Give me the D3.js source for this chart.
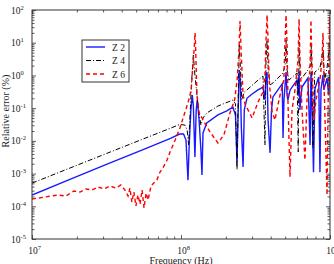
<!DOCTYPE html>
<html>
<head>
<meta charset="utf-8">
<script src="https://cdn.jsdelivr.net/npm/d3@7"></script>
<style>
  body { margin: 0; background: #fff; }
  text { font-family: "Liberation Serif", "DejaVu Serif", serif; fill: #222; }
</style>
</head>
<body>
<div id="chart"></div>
<script>
// Frequencies are in MHz, relative errors in %
var freqZ2 = [10, 17.8, 31.6, 56.2, 85, 98, 104, 108, 111.4, 113.5, 116.5, 119, 121, 124, 126.5, 128.5, 132, 136, 138.3, 140.5,
  149, 177, 203, 223, 232, 237.6, 242, 246, 250, 254, 261, 266, 277, 300, 329, 355, 366, 372, 378, 384,
  396, 405, 414, 447, 478, 484, 491, 507, 515, 522, 540, 601, 612, 620, 628, 640, 649, 711, 735, 745,
  755, 775, 793, 840, 856, 870, 897, 910, 955, 980, 1000];
var errZ2 = [2.2e-4, 6.5e-4, 1.9e-3, 5.5e-3, 0.0119, 0.0162, 0.0162, 0.0106, 6.3e-4, 0.0075, 0.088, 0.25, 0.12, 0.0032, 0.088, 0.18, 0.05, 0.0053, 9e-4, 0.0174,
  0.035, 0.062, 0.082, 0.108, 0.062, 0.0021, 0.088, 1.47, 0.72, 0.0265, 0.0016, 0.088, 0.2, 0.27, 0.36, 0.44, 0.18, 1.03, 1.26, 0.043,
  0.0043, 0.088, 0.22, 0.36, 0.55, 0.0122, 0.18, 1.26, 0.25, 0.18, 0.36, 0.72, 0.25, 1.26, 0.088, 0.25, 0.44, 0.83, 0.0075, 1.26,
  0.18, 0.0011, 0.4, 0.9, 0.0011, 0.36, 1.03, 0.36, 0.83, 0.25, 1.47];

var freqZ4 = [10, 31.6, 56.2, 85, 98, 106, 110, 112.5, 115, 118, 121, 124, 127, 131, 136, 140.5, 149, 177, 223, 232,
  237.6, 242, 246, 250, 256, 266, 277, 329, 355, 366, 372, 378, 385, 396, 414, 484, 500, 507, 515, 530,
  601, 612, 620, 630, 649, 711, 740, 750, 768, 790, 856, 897, 920, 955, 1000];
var errZ4 = [5.1e-4, 4.1e-3, 0.0116, 0.0244, 0.0316, 0.0305, 0.0216, 0.0075, 0.062, 0.72, 4.2, 1.03, 0.36, 0.088, 0.0305, 0.05, 0.071, 0.116, 0.177, 0.136,
  0.0013, 0.177, 8.5, 2.08, 0.177, 0.31, 0.36, 0.72, 0.96, 0.0075, 2.96, 12.1, 1.47, 0.51, 0.59, 1.19, 2.08, 12.1, 1.47, 0.72,
  1.19, 0.0046, 10.5, 1.03, 0.83, 1.47, 2.08, 8.5, 0.006, 1.26, 1.69, 6, 0.72, 1.69, 12.1];

var freqZ6 = [10, 12.2, 14.9, 16.9, 19.1, 21, 23, 25.3, 27.7, 30.4, 33.4, 36.6, 39.5, 42.1, 44.1, 45.4, 46.8, 48.3, 49.8, 51.4,
  53.1, 54.8, 56.5, 58.3, 60.1, 62.9, 65.7, 68.9, 72.3, 75.6, 80.6, 84.4, 91.4, 98.4, 104.8, 111.4, 117, 121, 123.3, 124.2,
  125.1, 126, 128, 132, 140.5, 156.6, 177, 194, 213, 229, 238, 245, 249, 253, 261, 269, 300, 329, 355, 366,
  372, 378, 384, 390, 409, 427, 462, 490, 498, 507, 515, 522, 539, 556, 582, 610, 620, 629, 649, 679,
  701, 734, 745, 756, 780, 805, 856, 884, 897, 911, 955, 970, 993, 1000];
var errZ6 = [1.67e-4, 1.92e-4, 2.21e-4, 2.06e-4, 2.93e-4, 2.73e-4, 3.38e-4, 3.14e-4, 3.88e-4, 3.38e-4, 4.16e-4, 3.61e-4, 4.47e-4, 3.14e-4, 2.06e-4, 3.61e-4, 1.35e-4, 2.73e-4, 1.02e-4, 2.21e-4,
  1.17e-4, 3.14e-4, 8.9e-5, 2.54e-4, 1.55e-4, 4.16e-4, 5.14e-4, 6.35e-4, 1.11e-3, 1.48e-3, 2.59e-3, 4.56e-3, 0.0106, 0.0247, 0.0617, 0.144, 0.36, 2.96, 10, 19.8,
  10, 2.96, 0.252, 0.0762, 0.0434, 0.0186, 0.0086, 0.0151, 0.071, 0.177, 0.72, 6, 46, 6, 0.252, 0.134, 0.05, 0.154, 0.311, 1.03,
  12.1, 70, 12.1, 0.72, 0.0762, 0.0434, 0.252, 0.72, 8.5, 70, 8.5, 0.177, 7.9e-4, 0.088, 0.36, 2.96, 53, 2.96, 0.088, 0.0026,
  0.177, 1.47, 49, 2.96, 0.0434, 0.177, 0.72, 2.96, 19.8, 0.72, 2.2e-4, 0.088, 61, 2.96];

var seriesNames = ["Z 2", "Z 4", "Z 6"];
var xMajor = [1e7, 1e8, 1e9];
var yMajor = [1e-5, 1e-4, 1e-3, 1e-2, 1e-1, 1e0, 1e1, 1e2];

var margin = { top: 10, right: 4, bottom: 25, left: 32 };
var width = 334 - margin.left - margin.right;
var height = 264 - margin.top - margin.bottom;

var svg = d3.select("#chart")
  .append("svg")
  .attr("width", 334)
  .attr("height", 264)
  .append("g")
  .attr("transform", "translate(" + margin.left + "," + margin.top + ")");

var x = d3.scaleLog().domain([1e7, 1e9]).range([0, width]);
var y = d3.scaleLog().domain([1e-5, 1e2]).range([height, 0]);

function toPoints(freqs, errs) {
  return freqs.map(function (f, i) { return { f: f * 1e6, e: errs[i] }; });
}

var series = [
  { name: seriesNames[0], data: toPoints(freqZ2, errZ2), color: "#1a1aff", width: 1.4, dash: null },
  { name: seriesNames[1], data: toPoints(freqZ4, errZ4), color: "#000", width: 1, dash: "5,2,1,2" },
  { name: seriesNames[2], data: toPoints(freqZ6, errZ6), color: "#ff0000", width: 1.4, dash: "4,3" }
];

svg.append("clipPath").attr("id", "clip")
  .append("rect").attr("width", width).attr("height", height);

var line = d3.line()
  .x(function (d) { return x(d.f); })
  .y(function (d) { return y(d.e); });

svg.append("g").attr("clip-path", "url(#clip)")
  .selectAll("path")
  .data(series)
  .enter()
  .append("path")
  .attr("d", function (d) { return line(d.data); })
  .attr("fill", "none")
  .attr("stroke", function (d) { return d.color; })
  .attr("stroke-width", function (d) { return d.width; })
  .attr("stroke-dasharray", function (d) { return d.dash; });

// minor tick positions (2..9 of every decade)
var xMinor = x.ticks().filter(function (v) { return xMajor.indexOf(v) < 0; });
var yMinor = y.ticks().filter(function (v) { return yMajor.indexOf(v) < 0; });

function styleAxis(g) {
  g.select(".domain").remove();
  g.selectAll(".tick line").attr("stroke", "#333").attr("stroke-width", 0.8);
}

function supLabel(sel) {
  sel.each(function (d) {
    var t = d3.select(this).text("");
    t.append("tspan").text("10");
    t.append("tspan").attr("dy", -4).attr("font-size", 6.5).text(Math.round(Math.log10(d)));
  });
}

// bottom + top
svg.append("g").attr("transform", "translate(0," + height + ")")
  .call(d3.axisBottom(x).tickValues(xMajor).tickSizeInner(-4).tickSizeOuter(0).tickPadding(8))
  .call(styleAxis)
  .call(function (g) {
    g.selectAll(".tick text").attr("font-size", 9.5).attr("dx", 2).attr("font-family", "Liberation Serif").call(supLabel);
  });
svg.append("g").attr("transform", "translate(0," + height + ")")
  .call(d3.axisBottom(x).tickValues(xMinor).tickSizeInner(-2.5).tickSizeOuter(0).tickFormat(""))
  .call(styleAxis);
svg.append("g")
  .call(d3.axisTop(x).tickValues(xMajor).tickSizeInner(-4).tickSizeOuter(0).tickFormat(""))
  .call(styleAxis);
svg.append("g")
  .call(d3.axisTop(x).tickValues(xMinor).tickSizeInner(-2.5).tickSizeOuter(0).tickFormat(""))
  .call(styleAxis);

// left + right
svg.append("g")
  .call(d3.axisLeft(y).tickValues(yMajor).tickSizeInner(-4).tickSizeOuter(0).tickPadding(2))
  .call(styleAxis)
  .call(function (g) {
    g.selectAll(".tick text").attr("font-size", 9.5).attr("text-anchor", "start").attr("x", -21)
      .attr("font-family", "Liberation Serif").call(supLabel);
  });
svg.append("g")
  .call(d3.axisLeft(y).tickValues(yMinor).tickSizeInner(-2.5).tickSizeOuter(0).tickFormat(""))
  .call(styleAxis);
svg.append("g").attr("transform", "translate(" + width + ",0)")
  .call(d3.axisRight(y).tickValues(yMajor).tickSizeInner(-4).tickSizeOuter(0).tickFormat(""))
  .call(styleAxis);
svg.append("g").attr("transform", "translate(" + width + ",0)")
  .call(d3.axisRight(y).tickValues(yMinor).tickSizeInner(-2.5).tickSizeOuter(0).tickFormat(""))
  .call(styleAxis);

// box
svg.append("rect")
  .attr("width", width).attr("height", height)
  .attr("fill", "none").attr("stroke", "#333").attr("stroke-width", 1);

// axis titles
svg.append("text")
  .attr("x", width / 2).attr("y", height + 25)
  .attr("text-anchor", "middle").attr("font-size", 10)
  .text("Frequency (Hz)");
svg.append("text")
  .attr("transform", "rotate(-90)")
  .attr("x", -101).attr("y", -23)
  .attr("text-anchor", "middle").attr("font-size", 10)
  .text("Relative error (%)");

// legend
var legend = svg.append("g").attr("transform", "translate(50,30)");
legend.append("rect")
  .attr("width", 47).attr("height", 42)
  .attr("fill", "#fff").attr("stroke", "#333").attr("stroke-width", 1);
var item = legend.selectAll(".item")
  .data(series)
  .enter()
  .append("g")
  .attr("transform", function (d, i) { return "translate(0," + (7 + i * 13.5) + ")"; });
item.append("line")
  .attr("x1", 4).attr("x2", 23)
  .attr("stroke", function (d) { return d.color; })
  .attr("stroke-width", function (d) { return d.width; })
  .attr("stroke-dasharray", function (d) { return d.dash; });
item.append("text")
  .attr("x", 30).attr("y", 3.5)
  .attr("font-size", 9.5)
  .text(function (d) { return d.name; });
</script>
</body>
</html>
